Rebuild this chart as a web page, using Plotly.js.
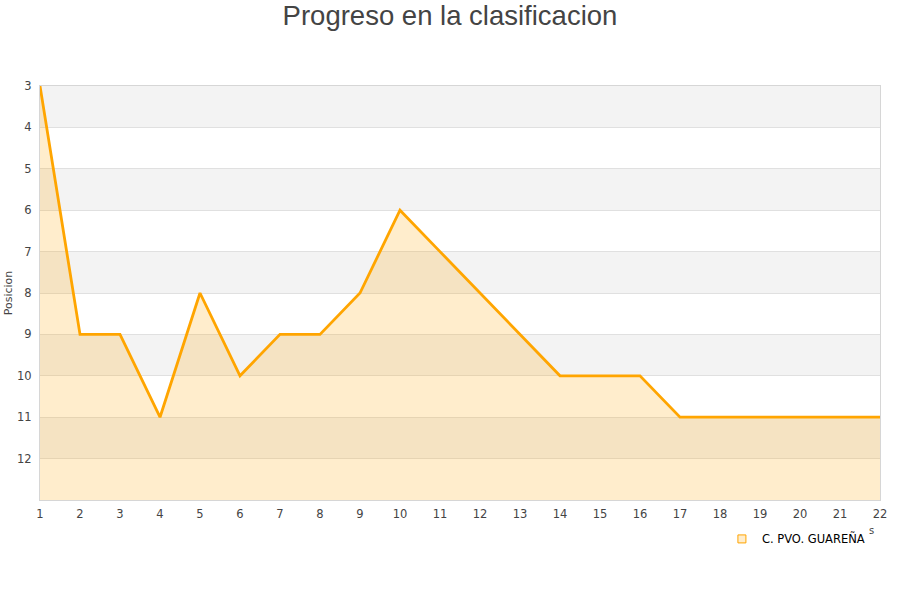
<!DOCTYPE html>
<html>
<head>
<meta charset="utf-8">
<script src="https://cdn.plot.ly/plotly-3.0.1.min.js"></script>
<style>html,body{margin:0;padding:0;background:#fff;}#chart{width:900px;height:600px;}</style>
</head>
<body>
<div id="chart"></div>
<script>
const jornadas = [1,2,3,4,5,6,7,8,9,10,11,12,13,14,15,16,17,18,19,20,21,22];
const posiciones = [3,9,9,11,8,10,9,9,8,6,7,8,9,10,10,10,11,11,11,11,11,11];
const yTicks = [3,4,5,6,7,8,9,10,11,12];
const bottomPos = 13;
const teamName = 'C. PVO. GUAREÑA';
const stripeStarts = [3,5,7,9,11];

const baseline = jornadas.map(() => bottomPos);

const traces = [
  {x: jornadas, y: baseline, mode: 'lines', line: {width: 0}, hoverinfo: 'skip', showlegend: false},
  {x: jornadas, y: posiciones, mode: 'lines', fill: 'tonexty',
   fillcolor: 'rgba(255,165,0,0.2)', line: {color: '#FFA500', width: 2.8}, showlegend: false, name: teamName},
  {x: [null], y: [null], mode: 'markers', name: teamName, showlegend: true,
   marker: {symbol: 'square', size: 8, color: 'rgba(255,165,0,0.2)', line: {color: '#FFA500', width: 1}}}
];

const shapes = stripeStarts.map(s => ({
  type: 'rect', xref: 'paper', yref: 'y', x0: 0, x1: 1, y0: s, y1: s + 1,
  fillcolor: '#f3f3f3', line: {width: 0}, layer: 'below'
}));

const layout = {
  width: 900, height: 600,
  margin: {l: 40, r: 20, t: 86, b: 100},
  paper_bgcolor: '#ffffff', plot_bgcolor: '#ffffff',
  title: {text: 'Progreso en la clasificacion', x: 0.5, xanchor: 'center', y: 0.99, yanchor: 'top',
          font: {family: 'Liberation Sans, Arial, sans-serif', size: 27.5, color: '#444'}},
  font: {family: 'DejaVu Sans, Verdana, sans-serif', size: 11, color: '#444'},
  xaxis: {range: [1, 22], tickvals: jornadas, ticks: '', showgrid: false, zeroline: false,
          showline: true, linecolor: '#d6d6d6', mirror: true, linewidth: 1,
          ticklabelstandoff: 3,
          tickfont: {size: 11.5, color: '#444'}},
  yaxis: {range: [bottomPos, 3], tickvals: yTicks, ticks: '', showgrid: true, gridcolor: '#e0e0e0',
          zeroline: false, showline: true, linecolor: '#d6d6d6', mirror: true, linewidth: 1,
          ticklabelstandoff: 5,
          tickfont: {size: 11.5, color: '#444'},
          title: {text: 'Posicion', font: {size: 11, color: '#444'}, standoff: 2}},
  shapes: shapes,
  showlegend: true,
  legend: {orientation: 'h', x: 0.988, xanchor: 'right', y: -0.094, yanchor: 'middle',
           font: {size: 11.5, color: '#000'}, bgcolor: 'rgba(0,0,0,0)'},
  annotations: [{xref: 'paper', yref: 'paper', x: 0.995, y: -0.074, yanchor: 'middle', text: 's', showarrow: false,
                 font: {size: 10, color: '#444'}}]
};

Plotly.newPlot('chart', traces, layout, {displayModeBar: false, staticPlot: true});
</script>
</body>
</html>
